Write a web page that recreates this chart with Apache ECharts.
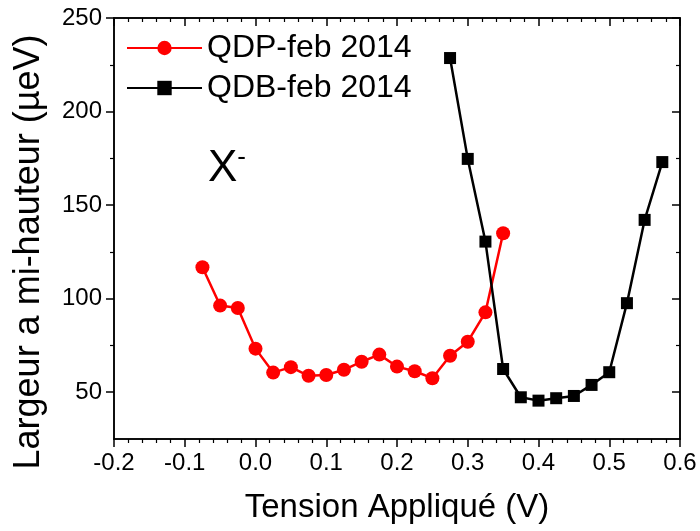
<!DOCTYPE html>
<html>
<head>
<meta charset="utf-8">
<script src="https://cdn.jsdelivr.net/npm/echarts@6/dist/echarts.min.js"></script>
<style>html,body{margin:0;padding:0;background:#fff;overflow:hidden}#c{width:700px;height:531px}</style>
</head>
<body>
<div id="c"></div>
<script>
var voltageQDP = [-0.075,-0.05,-0.025,0,0.025,0.05,0.075,0.1,0.125,0.15,0.175,0.2,0.225,0.25,0.275,0.3,0.325,0.35];
var widthQDP = [116.8,96.3,95,73.3,60.5,63.4,58.8,59.2,62,66.3,70.1,63.7,61.2,57.5,69.5,77,92.7,135];
var voltageQDB = [0.275,0.3,0.325,0.35,0.375,0.4,0.425,0.45,0.475,0.5,0.525,0.55,0.575];
var widthQDB = [228.6,174.7,130.5,62.4,47.3,45.5,46.8,48,53.9,60.7,97.6,142.1,173];
var xMajorTicks = [-0.2,-0.1,0,0.1,0.2,0.3,0.4,0.5,0.6];
var xMinorTicks = [-0.18,-0.16,-0.14,-0.12,-0.08,-0.06,-0.04,-0.02,0.02,0.04,0.06,0.08,0.12,0.14,0.16,0.18,0.22,0.24,0.26,0.28,0.32,0.34,0.36,0.38,0.42,0.44,0.46,0.48,0.52,0.54,0.56,0.58];
var yMajorTicks = [50,100,150,200,250];
var yMinorTicks = [75,125,175,225];
var seriesNames = ['QDP-feb 2014','QDB-feb 2014'];
var xTitle = 'Tension Appliqué (V)';
var yTitle = 'Largeur a mi-hauteur (µeV)';

var FONT = '"Liberation Sans", Arial, sans-serif';
function pairs(xs, ys){ return xs.map(function(x,i){ return [x, ys[i]]; }); }

var chart = echarts.init(document.getElementById('c'), null, {renderer:'canvas'});
function lineOn(){ return {show:true, onZero:false, lineStyle:{color:'#000', width:1.5}}; }
function lineOff(){ return {show:false, onZero:false}; }
function tick(inside, len, vals, w){ return {show:true, inside:inside, length:len, customValues:vals, lineStyle:{color:'#000', width:w}}; }
function xAx(grid, pos, line, inside, len, vals, w, label){
  var a = {type:'value', gridIndex:grid, position:pos, min:-0.2, max:0.6, interval:0.1,
    axisLine: line ? lineOn() : lineOff(),
    axisTick: tick(inside, len, vals, w),
    splitLine:{show:false}, axisLabel:{show:false}};
  if (label) {
    a.axisLabel = {show:true, fontSize:24, fontFamily:FONT, color:'#000', margin:12, customValues:xMajorTicks,
      formatter:function(v){ return v.toFixed(1); }};
    a.name = xTitle; a.nameLocation = 'middle'; a.nameGap = 52;
    a.nameTextStyle = {fontSize:33, fontFamily:FONT, color:'#000'};
  }
  return a;
}
function yAx(grid, pos, line, inside, len, vals, w, label){
  var a = {type:'value', gridIndex:grid, position:pos, min:25, max:250, interval:25,
    axisLine: line ? lineOn() : lineOff(),
    axisTick: tick(inside, len, vals, w),
    splitLine:{show:false}, axisLabel:{show:false}};
  if (label) {
    a.axisLabel = {show:true, fontSize:24, fontFamily:FONT, color:'#000', margin:12, customValues:yMajorTicks};
  }
  return a;
}
function gridBox(){ return {left:114, right:20, top:18, bottom:92, containLabel:false, outerBoundsMode:'none'}; }
var mainGrid = gridBox();
mainGrid.show = true; mainGrid.borderColor = '#000'; mainGrid.borderWidth = 1.5; mainGrid.backgroundColor = 'transparent';
var option = {
  backgroundColor:'#fff',
  animation:false,
  grid:[mainGrid, gridBox(), {left:114, right:20, top:41, bottom:68, containLabel:false, outerBoundsMode:'none'}],
  title:{
    text:'{x|X}{s|-}', left:208, top:145, padding:0,
    textStyle:{fontWeight:'normal', rich:{
      x:{fontSize:44, fontFamily:FONT, fontWeight:'normal', color:'#000'},
      s:{fontSize:26, fontFamily:FONT, fontWeight:'normal', color:'#000', verticalAlign:'top', padding:[0,0,22,0]}
    }}
  },
  legend:{
    orient:'vertical', left:121, top:27, itemGap:8,
    itemWidth:75, itemHeight:18,
    textStyle:{fontSize:32, fontFamily:FONT, color:'#000'},
    data:seriesNames
  },
  xAxis:[
    xAx(0, 'bottom', true, false, 8, xMajorTicks, 1.5, true),
    xAx(0, 'top', true, true, 8, xMajorTicks, 1.5, false),
    xAx(1, 'bottom', false, false, 4, xMinorTicks, 1.2, false),
    xAx(1, 'top', false, true, 4, xMinorTicks, 1.2, false),
    {type:'value', gridIndex:2, show:false, min:0, max:1}
  ],
  yAxis:[
    yAx(0, 'left', true, false, 8, yMajorTicks, 1.5, true),
    yAx(0, 'right', true, true, 8, yMajorTicks, 1.5, false),
    yAx(1, 'left', false, false, 4, yMinorTicks, 1.2, false),
    yAx(1, 'right', false, true, 4, yMinorTicks, 1.2, false),
    {type:'value', gridIndex:2, position:'left', min:0, max:1,
     axisLine:lineOff(), axisTick:{show:false}, axisLabel:{show:false}, splitLine:{show:false},
     name:yTitle, nameLocation:'middle', nameGap:67,
     nameTextStyle:{fontSize:36, fontFamily:FONT, color:'#000'}}
  ],
  series:[
    {name:seriesNames[0], type:'line', xAxisIndex:0, yAxisIndex:0,
     data:pairs(voltageQDP, widthQDP),
     symbol:'circle', symbolSize:14,
     lineStyle:{color:'#ff0000', width:2.5},
     itemStyle:{color:'#ff0000'}},
    {name:seriesNames[1], type:'line', xAxisIndex:0, yAxisIndex:0,
     data:pairs(voltageQDB, widthQDB),
     symbol:'rect', symbolSize:12,
     lineStyle:{color:'#000000', width:2.5},
     itemStyle:{color:'#000000'}}
  ]
};
chart.setOption(option);
</script>
</body>
</html>
